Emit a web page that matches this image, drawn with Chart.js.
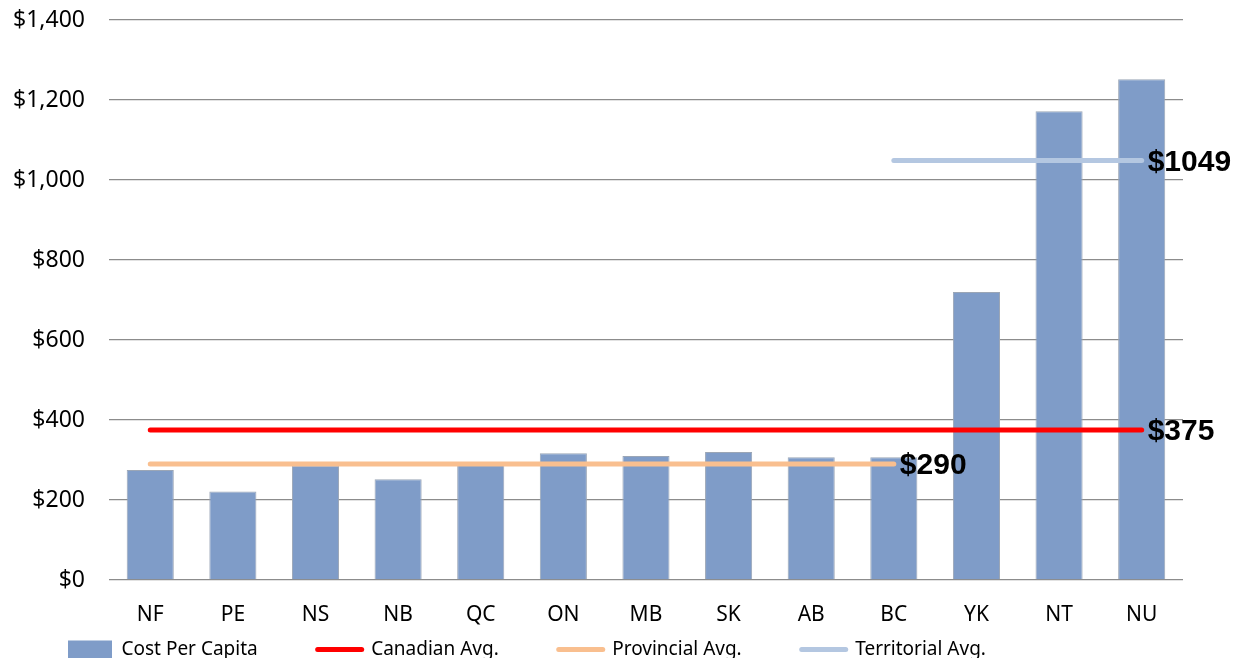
<!DOCTYPE html>
<html>
<head>
<meta charset="utf-8">
<script src="https://cdn.jsdelivr.net/npm/chart.js@4"></script>
<style>
  html, body { margin: 0; padding: 0; background: #fff; overflow: hidden; }
  #wrap { width: 1239px; height: 669px; }
</style>
</head>
<body>
<div id="wrap"><canvas id="myChart"></canvas></div>
<script>
const regions = ["NF", "PE", "NS", "NB", "QC", "ON", "MB", "SK", "AB", "BC", "YK", "NT", "NU"];
const costPerCapita = [275, 221, 287, 252, 290, 317, 310, 320, 307, 307, 720, 1172, 1252];
const canadianAvg = [375, 375, 375, 375, 375, 375, 375, 375, 375, 375, 375, 375, 375];
const provincialAvg = [290, 290, 290, 290, 290, 290, 290, 290, 290, 290, null, null, null];
const territorialAvg = [null, null, null, null, null, null, null, null, null, 1049, 1049, 1049, 1049];
const yTicks = [0, 200, 400, 600, 800, 1000, 1200, 1400];

const ctx = document.getElementById("myChart");

// writes "$375" etc. just right of the last point of each average line
const endLabels = {
    id: "endLabels",
    afterLayout(chart) {
        // x labels live inside the legend padding, y labels a bit left of the box
        const x = chart.scales.x;
        x.bottom = x.top + 60;
        chart.scales.y.left = 0;
    },
    afterDatasetsDraw(chart) {
        const c = chart.ctx;
        c.save();
        c.font = "bold 30px 'Liberation Sans', Arial, sans-serif";
        c.fillStyle = "#000";
        c.textBaseline = "middle";
        c.textAlign = "left";
        chart.data.datasets.forEach((ds) => {
            if (ds.type !== "line") return;
            let last = -1;
            for (let i = 0; i < ds.data.length; i++) {
                if (ds.data[i] !== null) last = i;
            }
            const x = chart.scales.x.getPixelForValue(last);
            const y = chart.scales.y.getPixelForValue(ds.data[last]);
            c.fillText("$" + ds.data[last], x + 6, y + 2);
        });
        c.restore();
    },
};

function lineSet(label, data, color) {
    return {
        type: "line",
        label: label,
        data: data,
        borderColor: color,
        backgroundColor: color,
        borderWidth: 5,
        borderCapStyle: "round",
        pointRadius: 0,
        pointHoverRadius: 0,
        order: 0,
    };
}

new Chart(ctx, {
    type: "bar",
    data: {
        labels: regions,
        datasets: [
            lineSet("Canadian Avg.", canadianAvg, "#ff0000"),
            lineSet("Provincial Avg.", provincialAvg, "#f9bf8f"),
            lineSet("Territorial Avg.", territorialAvg, "#b4c7e1"),
            {
                label: "Cost Per Capita",
                data: costPerCapita,
                backgroundColor: "#7f9cc8",
                borderColor: "#9ba6b6",
                borderWidth: 1,
                barPercentage: 0.57,
                categoryPercentage: 1,
                order: 1,
            },
        ],
    },
    plugins: [endLabels],
    options: {
        responsive: true,
        maintainAspectRatio: false,
        animation: false,
        layout: { padding: { left: 8, right: 56, top: 0, bottom: 0 } },
        plugins: {
            tooltip: { enabled: false },
            legend: {
                position: "bottom",
                align: "start",
                labels: {
                    usePointStyle: true,
                    pointStyleWidth: 44,
                    boxHeight: 18,
                    padding: 60,
                    color: "#000",
                    font: { family: "'Noto Sans', sans-serif", size: 19 },
                    generateLabels(chart) {
                        const ds = chart.data.datasets;
                        const order = [3, 0, 1, 2];
                        return order.map((i) => ({
                            text: ds[i].label,
                            datasetIndex: i,
                            fillStyle: ds[i].backgroundColor,
                            strokeStyle: ds[i].type === "line" ? ds[i].borderColor : ds[i].backgroundColor,
                            lineWidth: ds[i].type === "line" ? 5 : 0,
                            lineCap: "round",
                            pointStyle: ds[i].type === "line" ? "line" : "rect",
                            fontColor: "#000",
                            hidden: false,
                        }));
                    },
                },
            },
        },
        scales: {
            x: {
                grid: { display: false },
                border: { display: false },
                afterFit(axis) {
                    axis.height = 0;
                },
                ticks: {
                    color: "#000",
                    padding: 14,
                    font: { family: "'Noto Sans', sans-serif", size: 21 },
                },
            },
            y: {
                min: 0,
                max: 1400,
                afterBuildTicks(axis) {
                    axis.ticks = yTicks.map((v) => ({ value: v }));
                },
                afterFit(axis) {
                    axis.paddingTop = 20;
                    axis.paddingBottom = 0;
                    axis.width -= 19;
                },
                grid: { color: "#8c8c8c", lineWidth: 1.3, drawTicks: false },
                border: { display: false },
                ticks: {
                    color: "#000",
                    padding: 24,
                    font: { family: "'Noto Sans', sans-serif", size: 23 },
                    callback: (v) => "$" + v.toLocaleString("en-US"),
                },
            },
        },
    },
});
</script>
</body>
</html>
